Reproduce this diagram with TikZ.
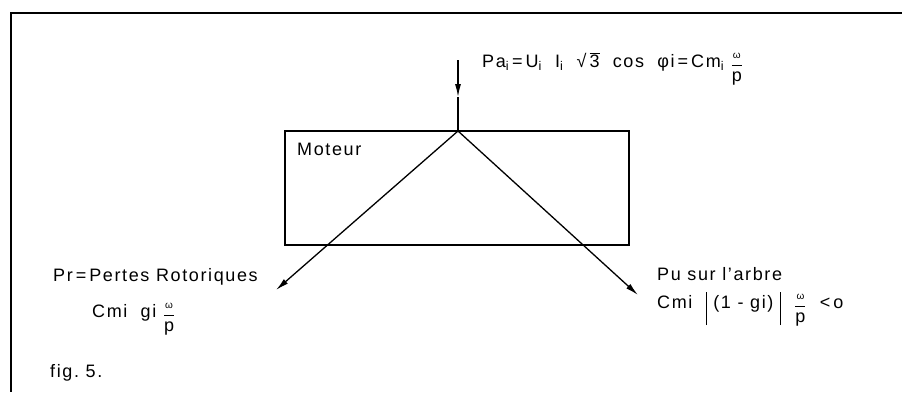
\documentclass[tikz,border=0pt]{standalone}
\usepackage{fontspec}
\setmainfont{Liberation Sans}[LetterSpace=9]
\usetikzlibrary{arrows.meta}
\newcommand{\wfrac}{\raisebox{-3pt}{$\displaystyle\frac{\hbox{\fontsize{10}{11}\selectfont ω}}{\hbox{p}}$}}
\newcommand{\vbarline}{\rule[-17pt]{1pt}{33pt}}
\tikzset{
  txt/.style={inner sep=0pt, anchor=base west, font=\fontsize{18}{21}\selectfont},
  frameline/.style={line width=1.4pt},
  boxstyle/.style={draw, line width=2.6pt, inner sep=0pt},
  arr/.style={line width=1.3pt, -{Latex[length=13pt,width=6pt]}},
  plain/.style={line width=1.3pt}
}
\begin{document}
\begin{tikzpicture}[x=1pt,y=-1pt]
\useasboundingbox (0,0) rectangle (902,392);
% frame
\coordinate (fTL) at (11,13);
\coordinate (fTR) at (902,13);
\coordinate (fBL) at (11,392);
\draw[frameline] (fTR) -- (fTL) -- (fBL);
% motor box
\node[boxstyle, minimum width=344pt, minimum height=114pt] (motor) at (457,188) {};
\node[txt] (motlbl) at (297,155) {Moteur};
% connectors
\coordinate (apex) at (458,131);
\coordinate (top) at (458,60);
\coordinate (mid) at (458,97);
\coordinate (ltip) at (276,290);
\coordinate (rtip) at (638,295);
\draw[arr] (top) -- (mid);
\draw[plain] (mid) -- (apex);
\draw[arr] (apex) -- (ltip);
\draw[arr] (apex) -- (rtip);
% texts
\node[txt] (pa) at (482,67) {Pa\textsubscript{i}\,=\,U\textsubscript{i}\ \ I\textsubscript{i}\ \ √\,$\overline{\hbox{3}}$\ \ cos\ \ φi\,=\,Cm\textsubscript{i}\ \wfrac};
\node[txt] (pr1) at (53,281) {Pr\,=\,Pertes\ Rotoriques};
\node[txt] (pr2) at (92,317) {Cmi\ \ gi\ \wfrac};
\node[txt] (pu1) at (657,280) {Pu\ sur\ l'arbre};
\node[txt] (pu2) at (657,308) {Cmi\ \ \vbarline\ (1\ -\ gi)\ \vbarline\ \ \wfrac\ \ <\,o};
\node[txt] (fig) at (50,377) {fig.\ 5.};
\end{tikzpicture}
\end{document}
